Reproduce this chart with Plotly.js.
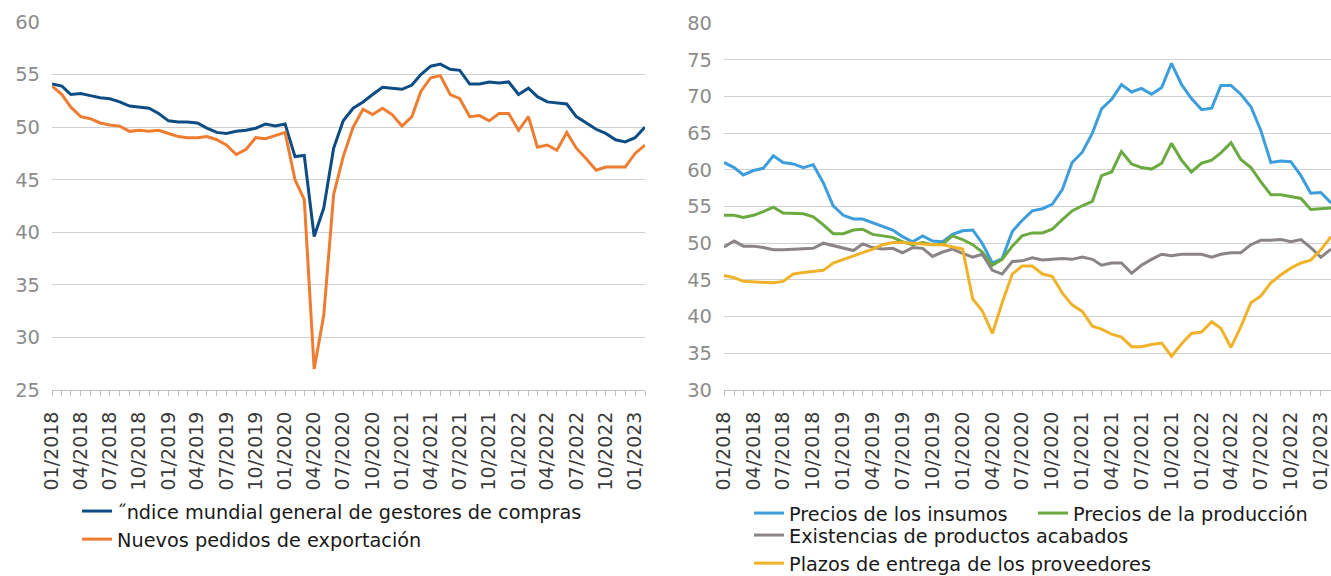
<!DOCTYPE html>
<html>
<head>
<meta charset="utf-8">
<script src="https://cdn.plot.ly/plotly-3.0.1.min.js"></script>
<style>html,body{margin:0;padding:0;background:#fff;}#chart{width:1331px;height:576px;}</style>
</head>
<body>
<div id="chart"></div>
<script>
const months = [
"2018-01-01","2018-02-01","2018-03-01","2018-04-01","2018-05-01","2018-06-01","2018-07-01","2018-08-01","2018-09-01","2018-10-01","2018-11-01","2018-12-01",
"2019-01-01","2019-02-01","2019-03-01","2019-04-01","2019-05-01","2019-06-01","2019-07-01","2019-08-01","2019-09-01","2019-10-01","2019-11-01","2019-12-01",
"2020-01-01","2020-02-01","2020-03-01","2020-04-01","2020-05-01","2020-06-01","2020-07-01","2020-08-01","2020-09-01","2020-10-01","2020-11-01","2020-12-01",
"2021-01-01","2021-02-01","2021-03-01","2021-04-01","2021-05-01","2021-06-01","2021-07-01","2021-08-01","2021-09-01","2021-10-01","2021-11-01","2021-12-01",
"2022-01-01","2022-02-01","2022-03-01","2022-04-01","2022-05-01","2022-06-01","2022-07-01","2022-08-01","2022-09-01","2022-10-01","2022-11-01","2022-12-01",
"2023-01-01","2023-02-01"];

const pmiGeneral = [54.1,53.9,53.1,53.2,53.0,52.8,52.7,52.4,52.0,51.9,51.8,51.3,
50.6,50.5,50.5,50.4,49.9,49.5,49.4,49.6,49.7,49.9,50.3,50.1,
50.3,47.2,47.3,39.6,42.3,48.0,50.6,51.8,52.4,53.1,53.8,53.7,
53.6,54.0,55.0,55.8,56.0,55.5,55.4,54.1,54.1,54.3,54.2,54.3,
53.1,53.7,52.9,52.4,52.3,52.2,51.0,50.4,49.8,49.4,48.8,48.6,
49.0,50.0];

const exportOrders = [53.9,53.1,51.9,51.0,50.8,50.4,50.2,50.1,49.6,49.7,49.6,49.7,
49.4,49.1,49.0,49.0,49.1,48.8,48.3,47.4,47.9,49.0,48.9,49.2,
49.5,45.0,43.1,27.0,32.1,43.6,47.2,50.0,51.7,51.2,51.8,51.2,
50.1,51.0,53.4,54.7,54.9,53.1,52.7,51.0,51.1,50.6,51.3,51.3,
49.7,51.0,48.1,48.3,47.8,49.5,48.0,47.0,45.9,46.2,46.2,46.2,
47.5,48.3];

const inputPrices = [61.0,60.3,59.3,59.9,60.2,61.9,61.0,60.8,60.3,60.7,58.2,55.1,
53.8,53.3,53.3,52.8,52.4,51.8,50.9,50.2,51.0,50.3,50.2,51.2,
51.7,51.8,50.0,47.3,47.9,51.6,53.1,54.4,54.7,55.3,57.3,61.0,
62.4,65.0,68.3,69.6,71.6,70.6,71.1,70.3,71.2,74.5,71.6,69.7,
68.2,68.4,71.5,71.5,70.3,68.6,65.4,61.0,61.2,61.1,59.2,56.8,
56.9,55.5];

const outputPrices = [53.8,53.8,53.5,53.8,54.3,54.9,54.1,54.1,54.0,53.6,52.5,51.3,
51.3,51.8,51.9,51.2,51.0,50.8,50.2,49.8,50.1,49.8,49.9,51.0,
50.5,49.8,48.8,47.0,47.8,49.6,51.0,51.4,51.4,51.9,53.2,54.4,
55.1,55.7,59.2,59.7,62.5,60.8,60.3,60.1,60.9,63.6,61.3,59.7,
60.9,61.3,62.3,63.7,61.4,60.3,58.4,56.6,56.6,56.4,56.1,54.6,
54.7,54.8];

const finishedStocks = [49.5,50.3,49.6,49.6,49.4,49.1,49.1,49.2,49.2,49.3,50.0,49.7,
49.4,49.0,49.9,49.4,49.2,49.3,48.7,49.4,49.3,48.2,48.8,49.2,
48.6,48.1,48.5,46.3,45.8,47.5,47.6,48.0,47.7,47.8,47.9,47.8,
48.1,47.8,47.0,47.3,47.3,45.9,47.0,47.8,48.5,48.3,48.5,48.5,
48.5,48.1,48.5,48.7,48.7,49.8,50.4,50.4,50.5,50.2,50.5,49.4,
48.1,49.2];

const deliveryTimes = [45.6,45.3,44.8,44.7,44.6,44.6,44.8,45.8,46.0,46.1,46.3,47.3,
47.8,48.3,48.8,49.2,49.8,50.1,50.1,50.0,49.8,49.8,49.8,49.5,
49.2,42.4,40.8,37.7,41.9,45.8,46.9,46.9,45.8,45.5,43.2,41.6,
40.7,38.7,38.3,37.6,37.2,35.9,35.9,36.2,36.4,34.6,36.3,37.7,
37.9,39.3,38.4,35.8,38.6,41.9,42.8,44.6,45.7,46.6,47.3,47.7,
49.1,50.9];

const leftNames = ["˝ndice mundial general de gestores de compras","Nuevos pedidos de exportación"];
const rightNames = ["Precios de los insumos","Precios de la producción","Existencias de productos acabados","Plazos de entrega de los proveedores"];
const leftColors = ["#0e4d84","#ef7d31"];
const rightColors = ["#3d9edc","#6aaa40","#8b8485","#f0b229"];

const FONT = "DejaVu Sans, Verdana, sans-serif";
const LW = 3;

function tr(x, y, name, color, xa, ya, leg) {
  return {x: x, y: y, name: name, type: "scatter", mode: "lines",
    line: {color: color, width: LW}, xaxis: xa, yaxis: ya, legend: leg, hoverinfo: "skip"};
}

const data = [
  tr(months, pmiGeneral, leftNames[0], leftColors[0], "x", "y", "legend"),
  tr(months, exportOrders, leftNames[1], leftColors[1], "x", "y", "legend"),
  tr(months, inputPrices, rightNames[0], rightColors[0], "x2", "y2", "legend2"),
  tr(months, outputPrices, rightNames[1], rightColors[1], "x2", "y2", "legend2"),
  tr(months, finishedStocks, rightNames[2], rightColors[2], "x2", "y2", "legend3"),
  tr(months, deliveryTimes, rightNames[3], rightColors[3], "x2", "y2", "legend3")
];

function xax(domain, anchor) {
  return {
    domain: domain, anchor: anchor, type: "date",
    range: [months[0], months[months.length - 1]],
    dtick: "M3", tick0: months[0], tickformat: "%m/%Y", tickangle: -90,
    ticks: "outside", ticklen: 5, tickcolor: "#bfbfbf", tickwidth: 1,
    minor: {dtick: "M1", ticks: "outside", ticklen: 5, tickcolor: "#bfbfbf", tickwidth: 1, showgrid: false},
    showline: true, linecolor: "#bfbfbf", linewidth: 1,
    showgrid: false, zeroline: false,
    tickfont: {family: FONT, size: 19, color: "#3a3a3a"},
    ticklabelstandoff: 8, ticklabeloverflow: "allow", automargin: false, fixedrange: true
  };
}
function yax(domain, anchor, range, dtick) {
  return {
    domain: domain, anchor: anchor, range: range, dtick: dtick, tick0: 0,
    showgrid: true, gridcolor: "#d0d0d0", gridwidth: 1,
    zeroline: false, showline: false, ticks: "",
    tickfont: {family: FONT, size: 19.5, color: "#8c8c8c"},
    ticklabelstandoff: 11, automargin: false, fixedrange: true
  };
}

const legendFont = {family: FONT, size: 19.3, color: "#1a1a1a"};
const layout = {
  width: 1331, height: 576,
  margin: {l: 0, r: 0, t: 0, b: 0, autoexpand: false},
  paper_bgcolor: "#ffffff", plot_bgcolor: "#ffffff",
  showlegend: true,
  xaxis: xax([52/1331, 645/1331], "y"),
  yaxis: yax([1 - 390/576, 1 - 22/576], "x", [25, 60], 5),
  xaxis2: xax([724/1331, 1], "y2"),
  yaxis2: yax([1 - 390/576, 1 - 23/576], "x2", [30, 80], 5),
  legend: {x: 77/1331, xanchor: "left", y: 1 - 492/576, yanchor: "top", orientation: "v",
    font: legendFont, bgcolor: "rgba(0,0,0,0)", tracegroupgap: 0},
  legend2: {x: 749/1331, xanchor: "left", y: 1 - 494/576, yanchor: "top", orientation: "h",
    font: legendFont, bgcolor: "rgba(0,0,0,0)", entrywidth: 239, entrywidthmode: "pixels"},
  legend3: {x: 749/1331, xanchor: "left", y: 1 - 516/576, yanchor: "top", orientation: "v",
    font: legendFont, bgcolor: "rgba(0,0,0,0)", tracegroupgap: 0}
};

Plotly.newPlot("chart", data, layout, {staticPlot: true, displayModeBar: false});
</script>
</body>
</html>
